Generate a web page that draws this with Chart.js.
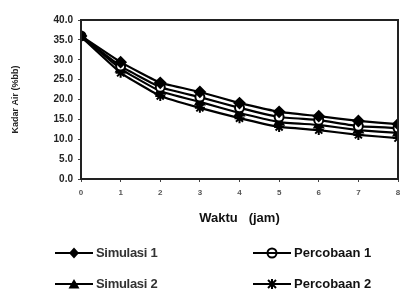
<!DOCTYPE html>
<html><head><meta charset="utf-8">
<script src="https://cdn.jsdelivr.net/npm/chart.js@4/dist/chart.umd.min.js"></script>
<style>
html,body{margin:0;padding:0;background:#fff;}
#wrap{position:relative;width:409px;height:297px;}
#legend{position:absolute;left:0;top:0;width:409px;height:297px;pointer-events:none;}
.lg{position:absolute;font-family:"Liberation Sans",Arial,sans-serif;font-weight:bold;color:#111;font-size:13px;line-height:14px;white-space:nowrap;}
</style></head>
<body>
<div id="wrap">
<canvas id="c" width="409" height="297"></canvas>
<div id="legend"></div>
</div>
<script>
const hours = [0,1,2,3,4,5,6,7,8];
const yTicks = [0,5,10,15,20,25,30,35,40];
const simulasi1 = [36.0,29.4,24.2,21.9,19.1,16.9,15.8,14.6,13.8];
const percobaan1 = [36.0,28.4,23.1,20.6,17.9,15.6,14.8,13.3,12.8];
const simulasi2 = [36.0,27.7,22.1,19.4,16.6,14.3,13.6,12.3,11.6];
const percobaan2 = [35.8,26.7,20.9,17.9,15.3,13.1,12.3,11.1,10.3];
const seriesNames = ["Simulasi 1","Percobaan 1","Simulasi 2","Percobaan 2"];

function pts(arr){return hours.map((h,i)=>({x:h,y:arr[i]}));}
const styles = [
  {pointStyle:'rectRot',bg:'#000',r:5},
  {pointStyle:'circle',bg:'#fff',r:4.5},
  {pointStyle:'triangle',bg:'#000',r:5},
  {pointStyle:'star',bg:'#000',r:5}
];
const dataArrs=[simulasi1,percobaan1,simulasi2,percobaan2];
const datasets = dataArrs.map((a,i)=>({
  label:seriesNames[i], data:pts(a), borderColor:'#000', backgroundColor:styles[i].bg,
  borderWidth:2.2, pointStyle:styles[i].pointStyle, pointRadius:styles[i].r,
  pointBorderColor:'#000', pointBorderWidth:2, tension:0.1
}));

const frame = {id:'frame',afterDraw(ch){const a=ch.chartArea,c=ch.ctx;c.save();c.strokeStyle='#222';c.lineWidth=2;c.strokeRect(a.left,a.top,a.right-a.left,a.bottom-a.top);c.restore();}};

new Chart(document.getElementById('c'),{
  type:'line',
  data:{datasets},
  options:{
    responsive:false,animation:false,
    layout:{padding:{left:6,right:11,top:20,bottom:67}},
    plugins:{legend:{display:false},tooltip:{enabled:false}},
    scales:{
      x:{type:'linear',min:0,max:8,
        afterFit(s){s.height=51;},
        ticks:{stepSize:1,color:'#555',font:{family:'Liberation Sans',size:8,weight:'bold'},padding:6},
        grid:{drawOnChartArea:false,tickLength:3,color:'#444'},border:{display:false},
        title:{display:true,text:'Waktu   (jam)',color:'#111',font:{family:'Liberation Sans',size:13,weight:'bold'},padding:{top:8}}
      },
      y:{min:0,max:40,
        afterFit(s){s.width=75;},
        afterBuildTicks(s){s.ticks=yTicks.map(v=>({value:v}));},
        ticks:{color:'#222',font:{family:'Liberation Sans',size:10,weight:'bold'},padding:5,callback:v=>v.toFixed(1)},
        grid:{drawOnChartArea:false,tickLength:3,color:'#444'},border:{display:false},
        title:{display:true,text:'Kadar Air (%bb)',color:'#222',font:{family:'Liberation Sans',size:9,weight:'bold'},padding:{top:4,bottom:10}}
      }
    }
  },
  plugins:[frame]
});

// HTML legend (2 x 2)
const lgPos=[{x:55,y:252},{x:253,y:252},{x:55,y:283},{x:253,y:283}];
const legendEl=document.getElementById('legend');
function markerSvg(st){
  let m='';
  if(st.pointStyle==='rectRot') m='<polygon points="19,1.5 24,7 19,12.5 14,7" fill="#000"/>';
  if(st.pointStyle==='circle') m='<circle cx="19" cy="7" r="4.5" fill="#fff" stroke="#000" stroke-width="2"/><line x1="14" y1="7" x2="24" y2="7" stroke="#000" stroke-width="2"/>';
  if(st.pointStyle==='triangle') m='<polygon points="19,2 24.5,11.5 13.5,11.5" fill="#000"/>';
  if(st.pointStyle==='star') m='<line x1="15" y1="3" x2="23" y2="11" stroke="#000" stroke-width="2"/><line x1="23" y1="3" x2="15" y2="11" stroke="#000" stroke-width="2"/><line x1="19" y1="2" x2="19" y2="12" stroke="#000" stroke-width="2"/>';
  return '<svg width="38" height="14" style="vertical-align:middle"><line x1="0" y1="7" x2="38" y2="7" stroke="#000" stroke-width="2"/>'+m+'</svg>';
}
seriesNames.forEach((name,k)=>{
  const p=lgPos[k];
  const d=document.createElement('div');
  d.className='lg';
  d.style.left=p.x+'px';d.style.top=(p.y-7)+'px';
  d.innerHTML=markerSvg(styles[k])+'<span style="margin-left:3px;vertical-align:middle;'+(k%2===0?'color:#333;letter-spacing:-0.3px;':'')+'">'+name+'</span>';
  legendEl.appendChild(d);
});
</script>
</body></html>
